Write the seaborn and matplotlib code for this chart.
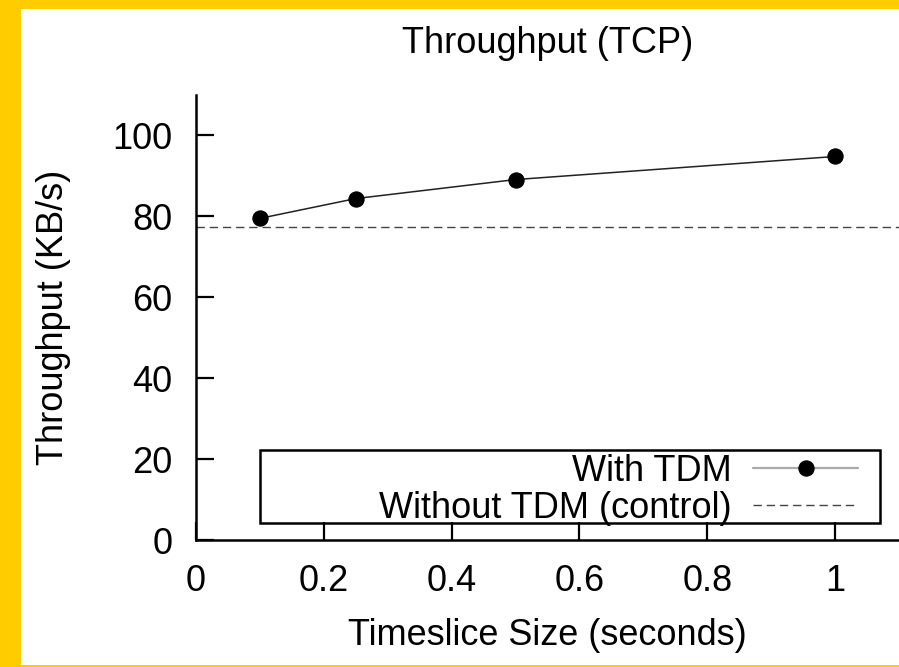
import matplotlib
matplotlib.use("Agg")
import matplotlib.pyplot as plt
from matplotlib.patches import Rectangle
import seaborn as sns
import pandas as pd

timeslice = [0.1, 0.25, 0.5, 1.0]
throughput_tdm = [79.5, 84.4, 89.1, 94.8]
throughput_control = 77.3
xticks = [0, 0.2, 0.4, 0.6, 0.8, 1]
yticks = [0, 20, 40, 60, 80, 100]

sns.set_style("ticks")
plt.rcParams['font.family'] = ['Liberation Sans', 'DejaVu Sans']
plt.rcParams['text.color'] = 'black'
plt.rcParams['axes.labelcolor'] = 'black'
fs = 26

df = pd.DataFrame({'timeslice': timeslice, 'throughput': throughput_tdm})

fig = plt.figure(figsize=(8.99, 6.67), dpi=100)
fig.patch.set_facecolor('#FFCC00')
fig.add_artist(Rectangle((21 / 899, 2 / 667), 1, 656 / 667, transform=fig.transFigure,
                         facecolor='white', edgecolor='none', zorder=-10))

ax = fig.add_axes([196 / 899, 127 / 667, 703 / 899, 445 / 667])
ax.set_facecolor('white')

sns.lineplot(data=df, x='timeslice', y='throughput', ax=ax, color='#222222', lw=1.1,
             marker='o', markersize=11, markerfacecolor='black', markeredgecolor='black',
             label='With TDM')
ax.axhline(throughput_control, color='#444444', lw=1, dashes=(6, 3.5),
           label='Without TDM (control)')

ax.set_xlim(0, 1.1)
ax.set_ylim(0, 110)
ax.set_xticks(xticks)
ax.set_xticklabels(['0', '0.2', '0.4', '0.6', '0.8', '1'])
ax.set_yticks(yticks)
ax.tick_params(direction='in', length=13, width=1.6, labelsize=fs, colors='black')
ax.tick_params(axis='x', pad=17)
ax.tick_params(axis='y', pad=17)
for side in ['top', 'right']:
    ax.spines[side].set_visible(False)
for side in ['left', 'bottom']:
    ax.spines[side].set_linewidth(1.8)
    ax.spines[side].set_color('black')

ax.set_xlabel('Timeslice Size (seconds)', fontsize=fs, labelpad=14)
ax.set_ylabel('Throughput (KB/s)', fontsize=fs, labelpad=30)
ax.set_title('Throughput (TCP)', fontsize=fs, pad=30)

leg = ax.legend(loc='lower right', bbox_to_anchor=(0.947, 0.024), frameon=False,
                markerfirst=False, fontsize=fs, handlelength=2.9, handletextpad=0.6,
                labelspacing=0.05, borderpad=0.1, borderaxespad=0)
leg.get_lines()[0].set_color('#aaaaaa')
leg.get_lines()[0].set_linewidth(1.6)
ax.add_patch(Rectangle((0.091, 0.039), 0.882, 0.163, transform=ax.transAxes,
                       fill=False, edgecolor='black', lw=1.8, zorder=5))

fig.savefig('out.png', dpi=100, facecolor=fig.get_facecolor())
